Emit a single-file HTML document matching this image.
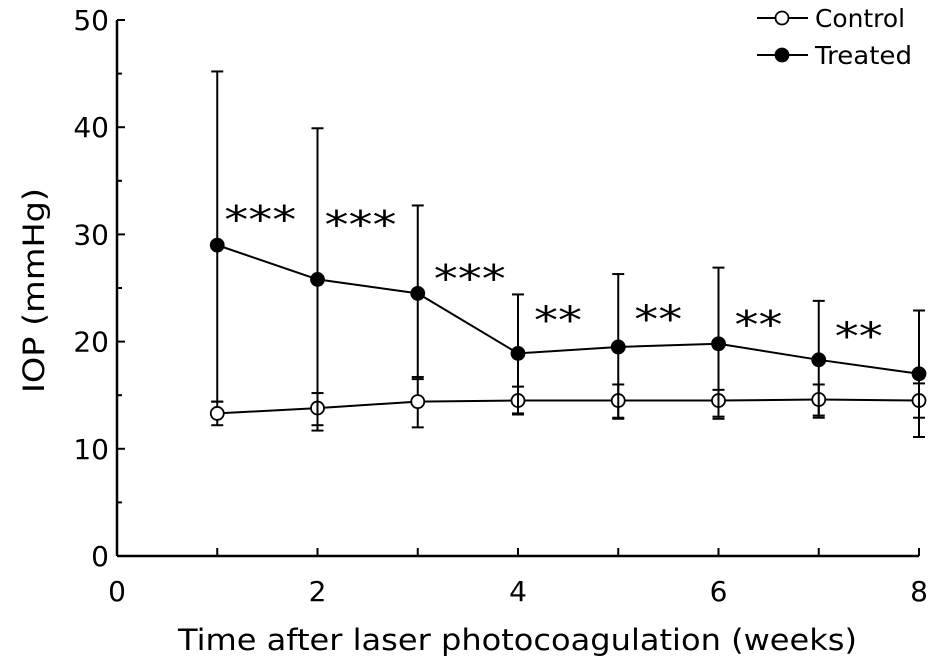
<!DOCTYPE html>
<html><head><meta charset="utf-8"><style>
html,body{margin:0;padding:0;background:#fff;}
svg{display:block;font-family:"DejaVu Sans","Liberation Sans",sans-serif;}
</style></head><body>
<svg id="chart" width="944" height="666"></svg>
<script>
const weeks=[1,2,3,4,5,6,7,8];
const treatedMean=[29.0,25.8,24.5,18.9,19.5,19.8,18.3,17.0];
const treatedUpper=[45.2,39.9,32.7,24.4,26.3,26.9,23.8,22.9];
const treatedLower=[14.4,11.7,16.5,13.3,12.8,12.8,12.9,11.1];
const controlMean=[13.3,13.8,14.4,14.5,14.5,14.5,14.6,14.5];
const controlUpper=[14.4,15.2,16.7,15.8,16.0,15.5,16.0,16.1];
const controlLower=[12.2,12.2,12.0,13.2,12.9,13.0,13.1,12.9];
const sigLabels=["***","***","***","**","**","**","**",""];
const sigLevel=[32.2,31.7,26.7,22.8,22.9,22.4,21.3,0];
const xTicks=[0,2,4,6,8];
const yTicks=[0,10,20,30,40,50];
const NS="http://www.w3.org/2000/svg";
const svg=document.getElementById('chart');
const X0=117,X1=919,Y0=556,Y1=20;
const xs=v=>X0+(X1-X0)*v/8;
const ys=v=>Y0-(Y0-Y1)*v/50;
function mk(t,a,p){const e=document.createElementNS(NS,t);for(const k in a)e.setAttribute(k,a[k]);(p||svg).appendChild(e);return e;}
const ax=mk('g',{});


mk('line',{x1:X0,y1:Y1,x2:X0,y2:Y0,stroke:'#000','stroke-width':2.5},ax);
mk('line',{x1:X0,y1:Y0,x2:X1,y2:Y0,stroke:'#000','stroke-width':2.5},ax);
for(let v=0;v<=50;v+=5){mk('line',{x1:X0,y1:ys(v),x2:X0+(v%10?5:8),y2:ys(v),stroke:'#000','stroke-width':2},ax);}
for(let w=1;w<=8;w++){mk('line',{x1:xs(w),y1:Y0,x2:xs(w),y2:Y0-8,stroke:'#000','stroke-width':2},ax);}
yTicks.forEach(v=>{const t=mk('text',{x:X0-8,y:ys(v)+10,'text-anchor':'end','font-size':28},ax);t.textContent=v;

});
xTicks.forEach(v=>{const t=mk('text',{x:xs(v),y:Y0+45,'text-anchor':'middle','font-size':28},ax);t.textContent=v;

});
const xt=mk('text',{x:178,y:650,'font-size':29,textLength:679,lengthAdjust:'spacingAndGlyphs'});xt.textContent='Time after laser photocoagulation (weeks)';


const yt=mk('text',{x:0,y:0,'font-size':29,textLength:205,lengthAdjust:'spacingAndGlyphs',transform:'translate(44,393) rotate(-90)'});yt.textContent='IOP (mmHg)';


function series(mean,up,lo,fill,name){
  const g=mk('g',{});
  
  
  weeks.forEach((w,i)=>{
    const x=xs(w);
    mk('line',{x1:x,y1:ys(up[i]),x2:x,y2:ys(lo[i]),stroke:'#000','stroke-width':2},g);
    mk('line',{x1:x-6,y1:ys(up[i]),x2:x+6,y2:ys(up[i]),stroke:'#000','stroke-width':2},g);
    mk('line',{x1:x-6,y1:ys(lo[i]),x2:x+6,y2:ys(lo[i]),stroke:'#000','stroke-width':2},g);
  });
  mk('polyline',{points:weeks.map((w,i)=>xs(w)+','+ys(mean[i])).join(' '),fill:'none',stroke:'#000','stroke-width':2},g);
  weeks.forEach((w,i)=>{const c=mk('circle',{cx:xs(w),cy:ys(mean[i]),r:6.5,fill:fill,stroke:'#000','stroke-width':1.8},g);
  
  });
}
series(controlMean,controlUpper,controlLower,'#fff','control');
series(treatedMean,treatedUpper,treatedLower,'#000','treated');
weeks.forEach((w,i)=>{if(!sigLabels[i])return;
  const t=mk('text',{x:xs(w)+(i===0||i===1?7:16),y:ys(sigLevel[i])+22,'font-size':38,textLength:sigLabels[i].length*24,lengthAdjust:'spacingAndGlyphs'},svg);
  t.textContent=sigLabels[i];
  
  });
const lg=mk('g',{});


[['Control','#fff',18,90],['Treated','#000',55,97]].forEach(([n,f,y,w])=>{
  mk('line',{x1:757,y1:y,x2:808,y2:y,stroke:'#000','stroke-width':2},lg);
  mk('circle',{cx:782,cy:y,r:6.5,fill:f,stroke:'#000','stroke-width':1.8},lg);
  const t=mk('text',{x:815,y:y+9,'font-size':25,textLength:w,lengthAdjust:'spacingAndGlyphs'},lg);t.textContent=n;
  
  
});
</script>
</body></html>
